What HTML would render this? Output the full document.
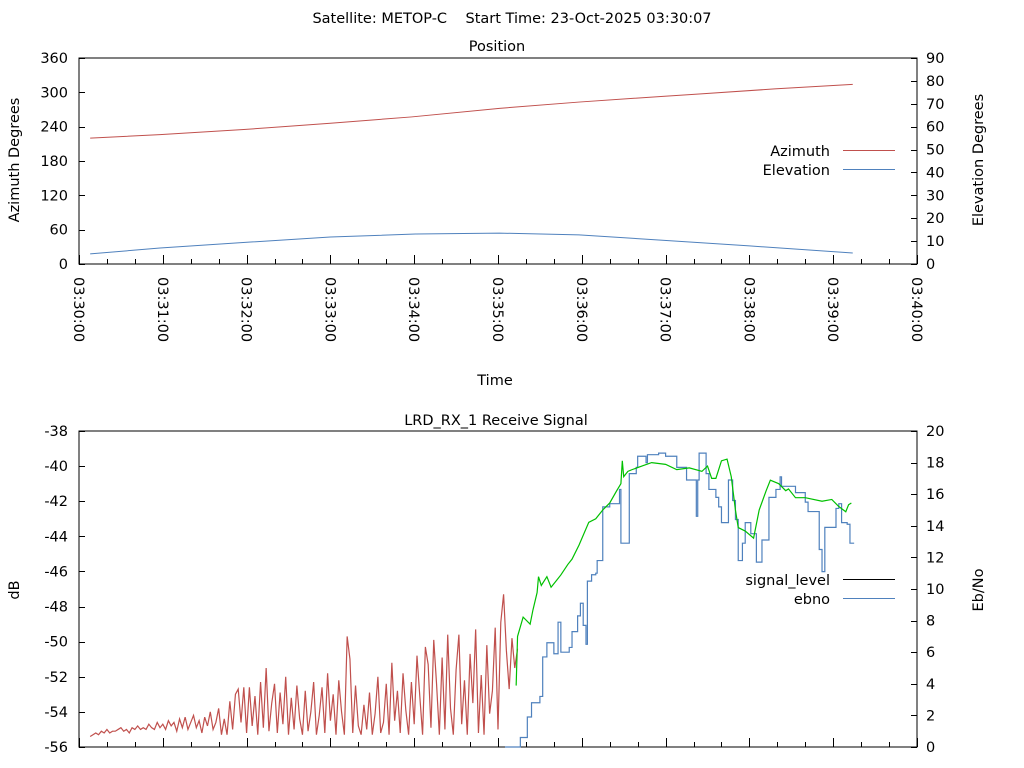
<!DOCTYPE html>
<html><head><meta charset="utf-8"><style>
html,body{margin:0;padding:0;background:#fff;}
svg{display:block;font-family:"DejaVu Sans","Liberation Sans",sans-serif;font-size:14.5px;}
</style></head><body>
<svg id="c" width="1024" height="768" xmlns="http://www.w3.org/2000/svg">
<text x="512" y="23" text-anchor="middle" style="white-space:pre" xml:space="preserve">Satellite: METOP-C    Start Time: 23-Oct-2025 03:30:07</text>
</svg>
<script>
// ---- Position chart data (seconds after 03:30:00) ----
const azTimes = [8, 58, 118, 180, 238, 301, 358, 418, 444, 498, 554];
const azValues = [220, 226, 235, 246, 257, 272, 283, 293, 297, 306, 314];
const elTimes = [8, 58, 123, 180, 241, 301, 358, 415, 480, 554];
const elValues = [4.4, 7.0, 9.6, 11.8, 13.1, 13.5, 12.7, 10.5, 7.9, 4.8];
const azTicks = [0, 60, 120, 180, 240, 300, 360];
const elTicks = [0, 10, 20, 30, 40, 50, 60, 70, 80, 90];
const timeTickLabels = ["03:30:00","03:31:00","03:32:00","03:33:00","03:34:00","03:35:00","03:36:00","03:37:00","03:38:00","03:39:00","03:40:00"];
// ---- Receive signal data ----
const sigStart = 8, sigStep = 2;
const sigLowValues = [
-55.4,-55.3,-55.2,-55.3,-55.1,-55.2,-55.0,-55.2,-55.1,-55.1,
-55.0,-54.9,-55.1,-55.0,-55.2,-54.9,-55.0,-54.8,-55.0,-54.9,
-55.0,-54.7,-54.9,-55.0,-54.6,-54.9,-54.7,-55.0,-54.5,-54.8,
-54.6,-55.1,-54.4,-54.9,-54.3,-55.0,-54.6,-54.2,-54.9,-54.5,
-55.2,-54.3,-54.8,-54.0,-55.0,-54.6,-53.8,-55.3,-54.4,-55.3,
-53.4,-55.0,-53.0,-52.7,-54.6,-52.6,-55.2,-52.6,-54.8,-53.1,
-55.3,-52.3,-54.9,-51.5,-55.1,-53.5,-52.4,-55.2,-52.9,-54.7,
-52.0,-55.3,-53.2,-55.0,-52.5,-54.4,-55.3,-52.8,-55.1,-54.0,
-52.3,-55.3,
-54.2,-52.6,-55.2,-51.8,-54.5,-53.0,-55.3,-52.2,-54.0,-55.3,
-49.7,-51.0,-55.2,-52.5,-54.8,-55.3,-53.6,-55.0,-52.9,-55.3,
-54.1,-52.0,-55.2,-54.6,-52.4,-55.3,-51.2,-54.5,-52.8,-55.2,
-51.8,-53.9,-55.3,-52.3,-54.7,-50.8,
-53.1,-55.3,-50.3,-51.3,-54.9,-49.9,-52.4,-55.3,-50.9,-55.0,
-49.6,-53.8,-55.3,-51.6,-49.6,-54.7,-52.2,-55.3,-50.7,-53.5,
-49.3,-55.2,-51.9,-55.3,-50.2,-54.1,-52.8,-49.2,-55.0,-48.9,
-47.3,-50.5,-52.7,-49.8,-51.5,-50.4];
const sigHighTimes = [313,314,318,323,325,328,329,331,335,338,342,345,350,353,358,365,370,375,380,385,388,389,390,393,396,403,410,420,428,437,446,450,453,456,460,464,467,470,472,477,483,487,492,495,501,506,508,513,520,532,539,544,549,551,553];
const sigHighValues = [-52.5,-49.7,-48.6,-49.0,-48.2,-47.2,-46.3,-46.8,-46.3,-46.9,-46.5,-46.2,-45.6,-45.3,-44.5,-43.2,-43.0,-42.5,-42.1,-41.4,-41.0,-39.7,-40.6,-40.3,-40.2,-40.0,-39.8,-39.9,-40.2,-40.1,-40.3,-40.0,-40.7,-40.7,-39.7,-39.6,-40.6,-42.5,-43.5,-43.7,-44.1,-42.5,-41.4,-40.8,-41.0,-41.4,-41.3,-41.8,-41.8,-42.0,-41.9,-42.3,-42.6,-42.2,-42.1];
const ebnoTimes = [305,316,321,324,330,332,335,340,343,345,351,353,357,359,361,363,364,367,370,371,375,380,387,388,392,394,399,400,406,407,415,420,428,432,435,439,442,443,444,447,449,451,456,458,460,464,465,468,470,472,475,477,481,485,487,489,494,499,502,503,508,513,520,522,527,530,532,534,539,542,544,546,550,552,555];
const ebnoValues = [0,0.6,1.9,2.8,3.2,5.7,6.6,5.9,7.9,6.0,6.3,7.3,8.3,9.1,7.7,6.5,10.5,10.9,11.0,11.8,15.2,15.4,16.3,12.9,12.9,17.3,17.7,18.4,18.0,18.5,18.6,18.4,17.7,17.7,16.9,16.9,14.6,16.9,18.6,18.6,17.3,16.3,15.8,15.2,14.2,14.2,16.9,15.6,14.4,11.8,12.9,14.2,13.5,11.7,11.7,13.1,15.8,16.3,17.1,16.5,16.5,16.1,15.5,14.9,14.9,12.5,11.1,13.9,13.9,15.1,15.4,14.2,14.1,12.9,12.9];
const dbTicks = [-38,-40,-42,-44,-46,-48,-50,-52,-54,-56];
const ebTicks = [0,2,4,6,8,10,12,14,16,18,20];

const svg = document.getElementById('c');
const NS = 'http://www.w3.org/2000/svg';
function mk(tag, attrs, parent){ const e=document.createElementNS(NS,tag); for(const k in attrs) e.setAttribute(k,attrs[k]); (parent||svg).appendChild(e); return e; }
const X0 = 79, X1 = 917;
const xT = t => X0 + t*(X1-X0)/600;
function frame(top,bottom,name){
  const g = mk('g',{});
  
  
  mk('rect',{x:X0,y:top,width:X1-X0,height:bottom-top,fill:'none',stroke:'#000','stroke-width':1},g);
  for(let s=0;s<=600;s+=20){ const x=Math.round(xT(s))+0.5; const len = s%60===0?9:5; mk('line',{x1:x,y1:bottom,x2:x,y2:bottom-len,stroke:'#000'},g); }
  return g;
}
function txt(x,y,s,anchor,name,extra){ const e=mk('text',Object.assign({x:x,y:y,'text-anchor':anchor||'start'},extra||{})); e.textContent=s;
  
  
  return e; }

// ---------- Position ----------
const T1=58, B1=264;
const yAz = v => B1 - v/360*(B1-T1);
const yEl = v => B1 - v/90*(B1-T1);
frame(T1,B1,'position-plot-frame');
txt(497,51,'Position','middle','position-title');
azTicks.forEach(v=>{ const y=yAz(v); txt(68,y+5,String(v),'end','azimuth-tick-label'); mk('line',{x1:X0,y1:Math.round(y)+.5,x2:X0+6,y2:Math.round(y)+.5,stroke:'#000'}); });
elTicks.forEach(v=>{ const y=yEl(v); txt(926,y+5,String(v),'start','elevation-tick-label'); mk('line',{x1:X1-6,y1:Math.round(y)+.5,x2:X1,y2:Math.round(y)+.5,stroke:'#000'}); });
timeTickLabels.forEach((s,i)=>{ const x=xT(i*60); txt(0,0,s,'start','time-tick-label',{transform:`translate(${x-5},277) rotate(90)`}); });
txt(0,0,'Azimuth Degrees','middle','azimuth-axis-title',{transform:'translate(19,160) rotate(-90)'});
txt(0,0,'Elevation Degrees','middle','elevation-axis-title',{transform:'translate(983,160) rotate(-90)'});
txt(495,385,'Time','middle','time-axis-title');
let p = mk('polyline',{points:azTimes.map((t,i)=>xT(t)+','+yAz(azValues[i])).join(' '),fill:'none',stroke:'#c0504d','stroke-width':1});


p = mk('polyline',{points:elTimes.map((t,i)=>xT(t)+','+yEl(elValues[i])).join(' '),fill:'none',stroke:'#4f81bd','stroke-width':1});


txt(830,156,'Azimuth','end','legend-azimuth-label');
mk('line',{x1:843,y1:150.5,x2:895,y2:150.5,stroke:'#c0504d'});
txt(830,175,'Elevation','end','legend-elevation-label');
mk('line',{x1:843,y1:169.5,x2:895,y2:169.5,stroke:'#4f81bd'});

// ---------- Receive signal ----------
const T2=431, B2=747;
const yDb = v => T2 + (-38 - v)/18*(B2-T2);
const yEb = v => B2 - v/20*(B2-T2);
frame(T2,B2,'signal-plot-frame');
txt(496,425,'LRD_RX_1 Receive Signal','middle','signal-title');
dbTicks.forEach(v=>{ const y=yDb(v); txt(68,y+5,String(v),'end','db-tick-label'); mk('line',{x1:X0,y1:Math.round(y)+.5,x2:X0+6,y2:Math.round(y)+.5,stroke:'#000'}); });
ebTicks.forEach(v=>{ const y=yEb(v); txt(926,y+5,String(v),'start','ebno-tick-label'); mk('line',{x1:X1-6,y1:Math.round(y)+.5,x2:X1,y2:Math.round(y)+.5,stroke:'#000'}); });
txt(0,0,'dB','middle','db-axis-title',{transform:'translate(19,590) rotate(-90)'});
txt(0,0,'Eb/No','middle','ebno-axis-title',{transform:'translate(983,590) rotate(-90)'});
function steps(ts,vs,yf){ let s=''; ts.forEach((t,i)=>{ const x=xT(t), y=yf(vs[i]); if(i>0) s+=' '+x+','+yf(vs[i-1]); s+=' '+x+','+y; }); return s; }
p = mk('polyline',{points:sigLowValues.map((v,i)=>xT(sigStart+i*sigStep)+','+yDb(v)).join(' '),fill:'none',stroke:'#c0504d','stroke-width':1.2});


p = mk('polyline',{points:steps(ebnoTimes,ebnoValues,yEb),fill:'none',stroke:'#4f81bd','stroke-width':1.2});


p = mk('polyline',{points:sigHighTimes.map((t,i)=>xT(t)+','+yDb(sigHighValues[i])).join(' '),fill:'none',stroke:'#00c000','stroke-width':1.2});


txt(830,585,'signal_level','end','legend-signal-level-label');
mk('line',{x1:843,y1:579.5,x2:895,y2:579.5,stroke:'#000'});
txt(830,604,'ebno','end','legend-ebno-label');
mk('line',{x1:843,y1:598.5,x2:895,y2:598.5,stroke:'#4f81bd'});
</script>
</body></html>
